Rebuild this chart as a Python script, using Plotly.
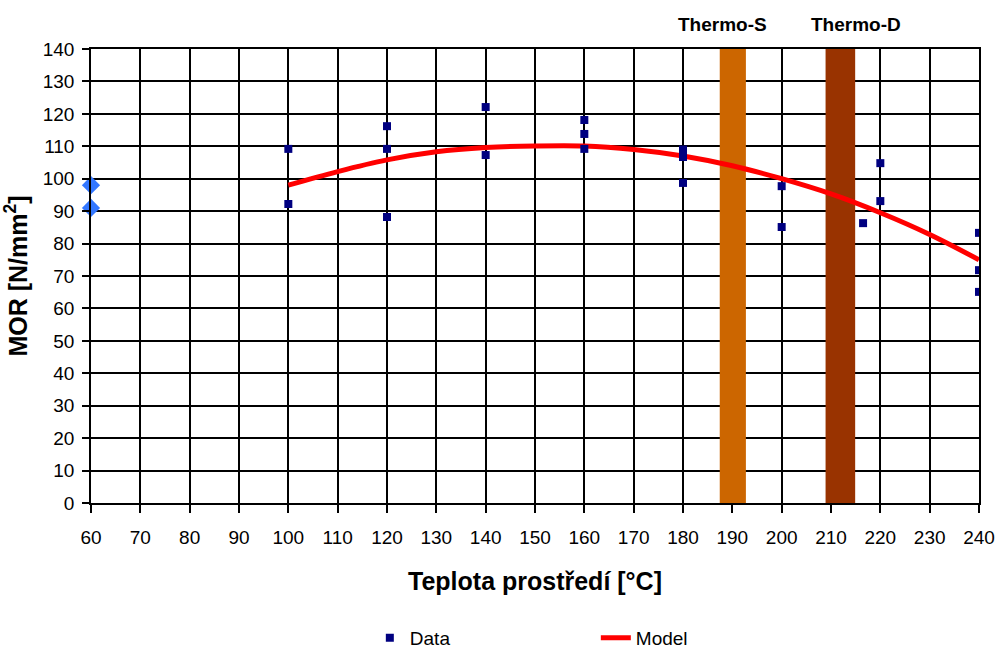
import plotly.graph_objects as go

# Data points
data_x = [100, 100, 120, 120, 120, 140, 140, 160, 160, 160, 180, 180, 180, 200, 200, 216.5, 220, 220, 240, 240, 240]
data_y = [109.2, 92.2, 116.2, 109.2, 88.2, 122.1, 107.3, 118.1, 113.8, 109.2, 109.0, 106.7, 98.7, 97.7, 85.1, 86.3, 104.8, 93.1, 83.3, 71.8, 65.1]

# Reference (untreated) points at 60 °C
ref_x = [60, 60]
ref_y = [98, 91]

# Model curve
model_x = [100, 110, 120, 130, 140, 150, 160, 170, 180, 190, 200, 210, 220, 230, 240]
model_y = [98, 102.2, 105.8, 108.3, 109.6, 110.1, 110.1, 109.0, 107.0, 104.0, 100.0, 95.3, 89.5, 82.8, 75.0]

# Treatment bands
band_names = ["Thermo-S", "Thermo-D"]
band_x = [190.1, 211.9]
band_w = [5.3, 6.0]
band_colors = ["#CC6600", "#993300"]
label_x = [188, 215]

fig = go.Figure()

fig.add_trace(go.Scatter(x=model_x, y=model_y, mode="lines", name="Model",
                         line=dict(color="#FF0000", width=5, shape="spline")))

for n, bx, bw, c in zip(band_names, band_x, band_w, band_colors):
    fig.add_trace(go.Bar(x=[bx], y=[140], width=[bw], marker=dict(color=c, line=dict(width=0)),
                         showlegend=False, hoverinfo="skip"))

fig.add_trace(go.Scatter(x=data_x, y=data_y, mode="markers", name="Data",
                         marker=dict(symbol="square", size=8, color="#000080")))
fig.add_trace(go.Scatter(x=ref_x, y=ref_y, mode="markers", showlegend=False,
                         marker=dict(symbol="diamond", size=14, color="#3377FF"),
                         cliponaxis=False))

for n, lx in zip(band_names, label_x):
    fig.add_annotation(x=lx, y=1.055, xref="x", yref="paper", yanchor="middle",
                       text="<b>%s</b>" % n, showarrow=False,
                       font=dict(size=19, color="black", family="Liberation Sans"))

fig.update_layout(
    width=999, height=648,
    margin=dict(l=91, r=20, t=49, b=145, autoexpand=False),
    plot_bgcolor="white", paper_bgcolor="white",
    font=dict(family="Liberation Sans, Arial", size=19, color="black"),
    barmode="overlay",
    legend=dict(orientation="h", x=0.314, xanchor="left", y=-0.297, yanchor="middle",
                traceorder="reversed", entrywidth=181, font=dict(size=19)),
    xaxis=dict(range=[60, 240], tickmode="linear", tick0=60, dtick=10,
               showgrid=True, gridcolor="black", gridwidth=1.5,
               showline=True, linecolor="black", linewidth=1.5, mirror=True,
               ticks="outside", ticklen=8, tickcolor="black", tickwidth=1.5, ticklabelstandoff=8,
               zeroline=False, automargin=False,
               title=dict(text="<b>Teplota prostředí [°C]</b>", font=dict(size=25), standoff=26)),
    yaxis=dict(range=[0, 140], tickmode="linear", tick0=0, dtick=10,
               showgrid=True, gridcolor="black", gridwidth=1.5,
               showline=True, linecolor="black", linewidth=1.5, mirror=True,
               ticks="outside", ticklen=7, tickcolor="black", tickwidth=1.5, ticklabelstandoff=4,
               zeroline=False, automargin=False,
               title=dict(text="<b>MOR [N/mm<sup>2</sup>]</b>", font=dict(size=25), standoff=12)),
)

fig.write_html("out.html", config={"responsive": False, "displayModeBar": False},
               default_width="999px", default_height="648px",
               post_script="document.body.style.margin='0px';document.body.style.overflow='hidden';")
